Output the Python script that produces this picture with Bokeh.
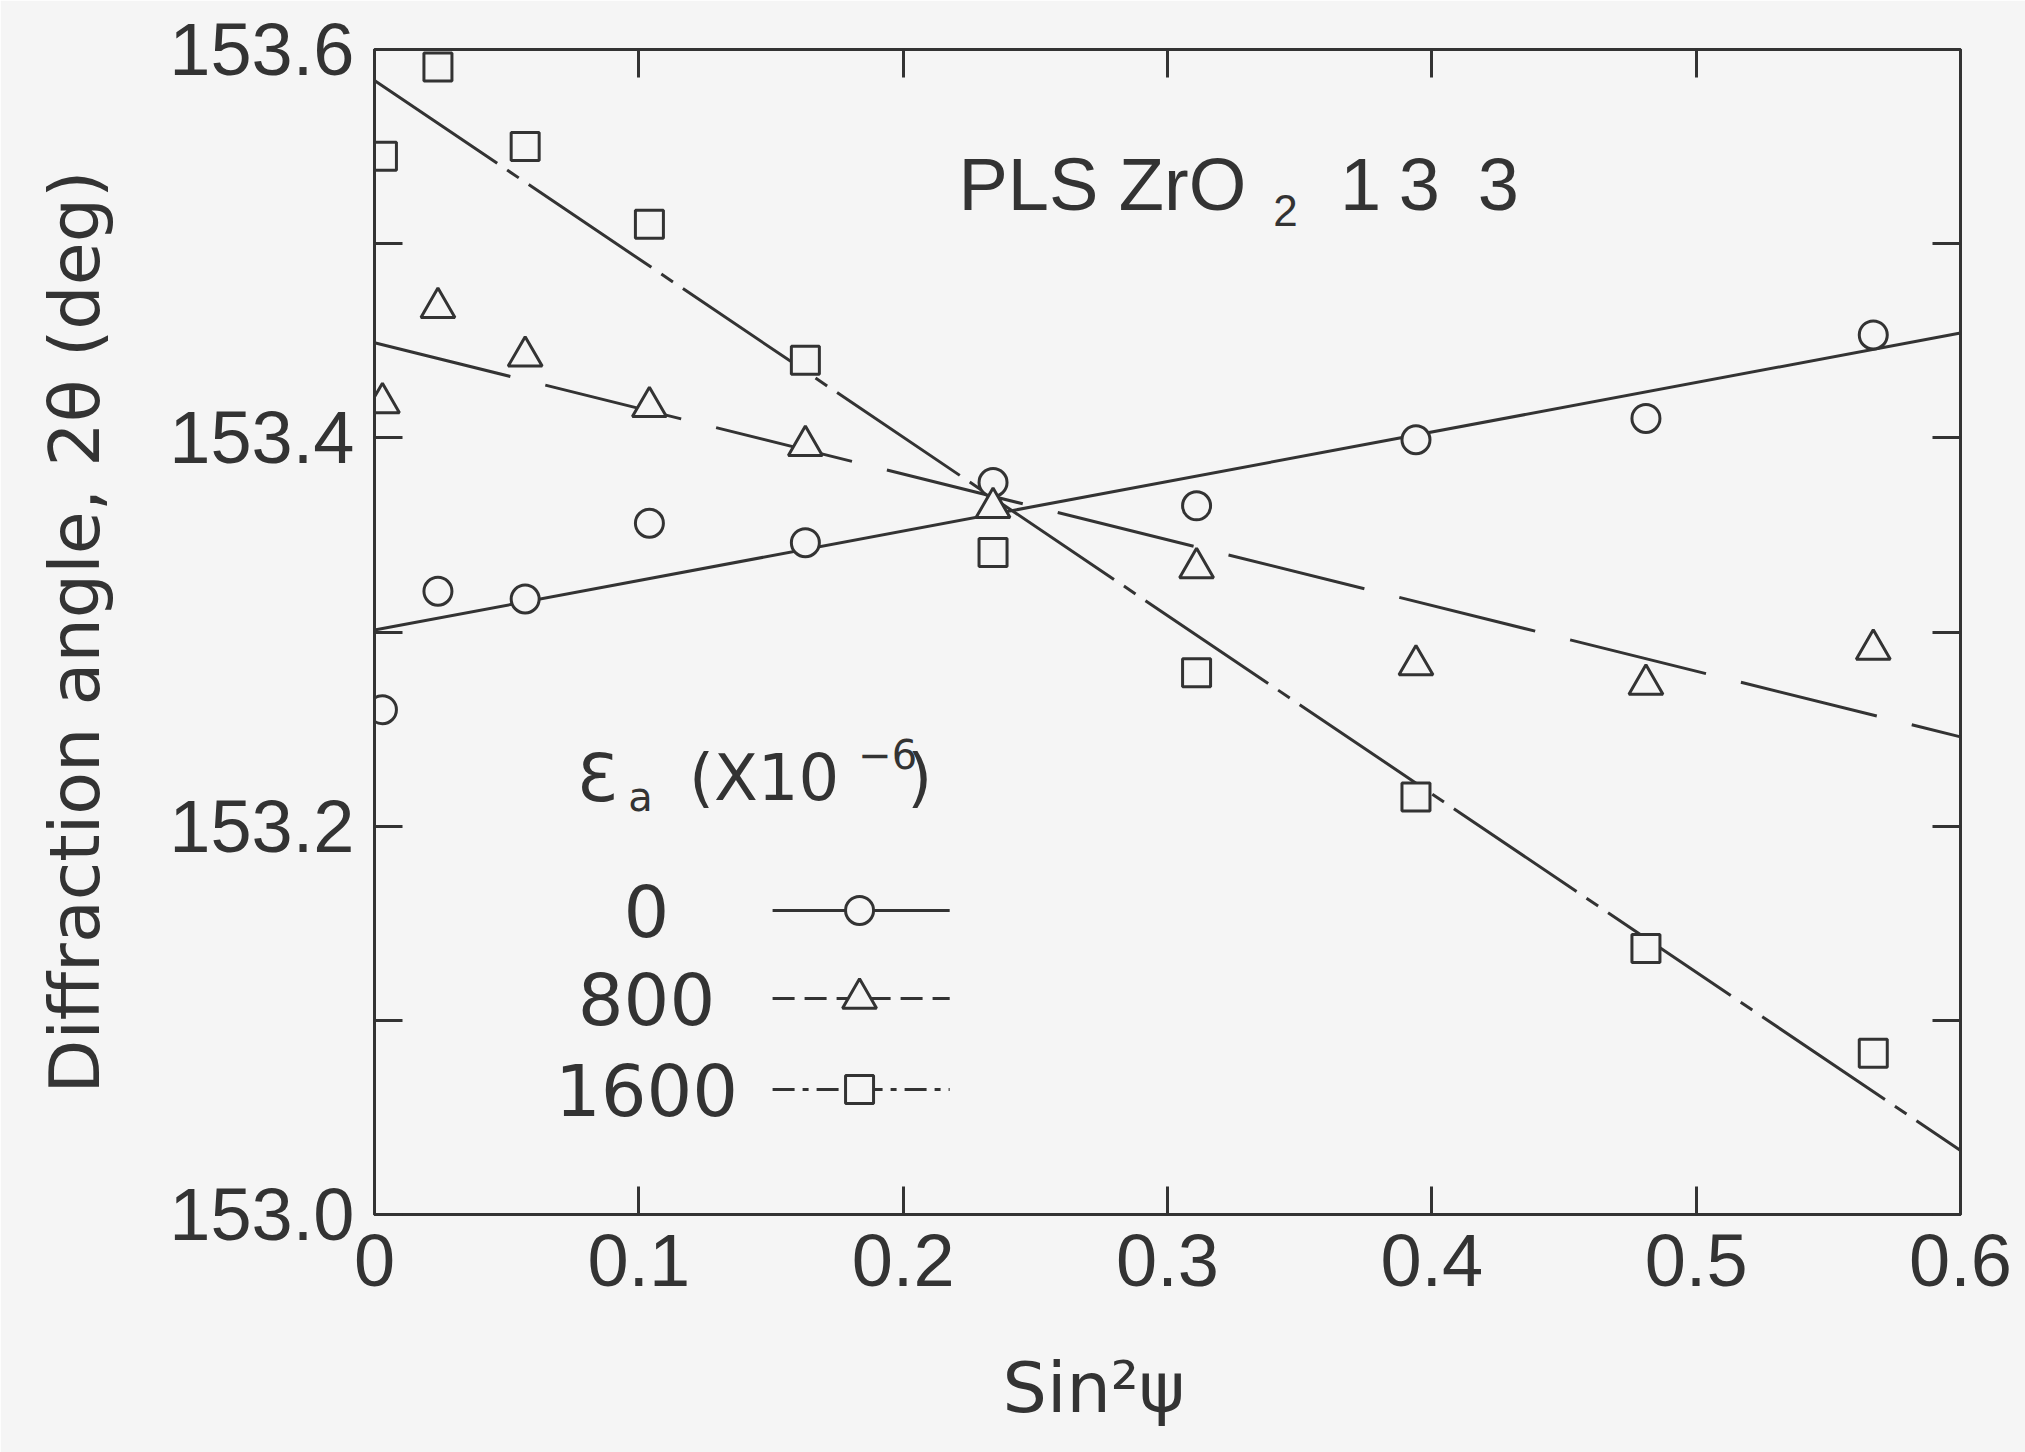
from bokeh.plotting import figure
from bokeh.models import Range1d, FixedTicker, LinearAxis, CustomJSTickFormatter
from bokeh.core.properties import value
from bokeh.embed import file_html
from bokeh.resources import INLINE

# ---- data ----
sin2psi = [0.003, 0.024, 0.057, 0.104, 0.163, 0.234, 0.311, 0.394, 0.481, 0.567]
angle_0 = [153.260, 153.321, 153.317, 153.356, 153.346, 153.377, 153.365, 153.399, 153.410, 153.453]
angle_800 = [153.418, 153.467, 153.442, 153.416, 153.396, 153.364, 153.333, 153.283, 153.273, 153.291]
angle_1600 = [153.545, 153.591, 153.550, 153.510, 153.440, 153.341, 153.279, 153.215, 153.137, 153.083]

fit_x = [0.0, 0.6]
fit_0 = [153.301, 153.454]
fit_800 = [153.449, 153.246]
fit_1600 = [153.584, 153.033]

x_ticks = [0.0, 0.1, 0.2, 0.3, 0.4, 0.5, 0.6]
y_ticks = [153.0, 153.2, 153.4, 153.6]
y_minor = [153.1, 153.3, 153.5]

legend_labels = ["0", "800", "1600"]

BG = "#f5f5f5"
INK = "#333333"
FONT = "Liberation Sans"
FONT2 = "DejaVu Sans"

p = figure(width=2025, height=1452, x_range=Range1d(0, 0.6), y_range=Range1d(153.0, 153.6),
           output_backend="svg", toolbar_location=None,
           min_border_left=374, min_border_right=65, min_border_top=49, min_border_bottom=238)
p.background_fill_color = BG
p.border_fill_color = BG
p.grid.visible = False
p.outline_line_color = INK
p.outline_line_width = 3

xt = FixedTicker(ticks=x_ticks)
yt = FixedTicker(ticks=y_ticks, minor_ticks=y_minor)
p.xaxis.ticker = xt
p.yaxis.ticker = yt
p.xaxis.major_label_overrides = {0: "0", 0.1: "0.1", 0.2: "0.2", 0.3: "0.3", 0.4: "0.4", 0.5: "0.5", 0.6: "0.6"}
p.yaxis.major_label_overrides = {153.0: "153.0", 153.2: "153.2", 153.4: "153.4", 153.6: "153.6"}

for ax in [p.xaxis[0], p.yaxis[0]]:
    ax.major_tick_in = 28
    ax.major_tick_out = 0
    ax.minor_tick_in = 28
    ax.minor_tick_out = 0
    ax.major_tick_line_width = 3
    ax.minor_tick_line_width = 3
    ax.major_tick_line_color = INK
    ax.minor_tick_line_color = INK
    ax.axis_line_width = 3
    ax.axis_line_color = INK
    ax.major_label_text_font = FONT
    ax.major_label_text_font_size = "74px"
    ax.major_label_text_color = INK
    ax.major_label_standoff = 20
    ax.axis_label_text_font = FONT2
    ax.axis_label_text_font_size = "70px"
    ax.axis_label_text_font_style = "normal"
    ax.axis_label_text_color = INK

p.xaxis.minor_tick_line_color = None
p.yaxis.axis_label = "Diffraction angle, 2θ (deg)"
p.yaxis.axis_label_standoff = 50
# x label: trailing no-break spaces shift the visible text left of the frame centre, as in the reference
p.xaxis.axis_label = "Sin\u00b2\u03c8" + "\u00a0" * 6 + "\u2009"
p.xaxis.axis_label_standoff = 58

blank = CustomJSTickFormatter(code="return ''")
for loc, tk in [("right", yt), ("above", xt)]:
    a = LinearAxis(ticker=tk, formatter=blank)
    a.major_tick_in = 28
    a.major_tick_out = 0
    a.minor_tick_in = 28
    a.minor_tick_out = 0
    a.major_tick_line_width = 3
    a.minor_tick_line_width = 3
    a.major_tick_line_color = INK
    a.minor_tick_line_color = INK if loc == "right" else None
    a.axis_line_color = None
    a.major_label_text_font_size = "1px"
    a.major_label_standoff = 0
    p.add_layout(a, loc)

# fit lines
p.line(fit_x, fit_0, line_color=INK, line_width=3)
p.line(fit_x, fit_800, line_color=INK, line_width=3, line_dash="140 36")
p.line(fit_x, fit_1600, line_color=INK, line_width=3, line_dash="148 12 14 12")

# data points
mk = dict(fill_color=BG, line_color=INK, line_width=3)
p.scatter(sin2psi, angle_0, marker="circle", size=28, **mk)
p.scatter(sin2psi, angle_800, marker="triangle", size=34, **mk)
p.scatter(sin2psi, angle_1600, marker="square", size=28, **mk)

# annotation text: PLS ZrO2 1 3 3
p.text(x=[0.2209], y=[153.5305], text=["PLS ZrO"], text_font=value(FONT),
       text_font_size=value("74px"), text_color=INK, text_baseline="middle", text_align="left")
p.text(x=[0.3400], y=[153.5170], text=["2"], text_font=value(FONT),
       text_font_size=value("44px"), text_color=INK, text_baseline="middle", text_align="left")
p.text(x=[0.3730, 0.3953, 0.4252], y=[153.5305] * 3, text=["1", "3", "3"], text_font=value(FONT),
       text_font_size=value("74px"), text_color=INK, text_baseline="middle", text_align="center")

# legend header: epsilon_a (X10^-6)
p.text(x=[0.0765], y=[153.2248], text=["\u0190"], text_font=value(FONT2),
       text_font_size=value("66px"), text_color=INK, text_baseline="middle", text_align="left")
p.text(x=[0.0960], y=[153.2150], text=["a"], text_font=value(FONT2),
       text_font_size=value("40px"), text_color=INK, text_baseline="middle", text_align="left")
p.text(x=[0.1190], y=[153.2248], text=["(X10"], text_font=value(FONT2),
       text_font_size=value("64px"), text_color=INK, text_baseline="middle", text_align="left")
p.text(x=[0.1830], y=[153.2370], text=["\u22126"], text_font=value(FONT2),
       text_font_size=value("40px"), text_color=INK, text_baseline="middle", text_align="left")
p.text(x=[0.2015], y=[153.2248], text=[")"], text_font=value(FONT2),
       text_font_size=value("64px"), text_color=INK, text_baseline="middle", text_align="left")

# legend entries (labels on the left of the samples)
leg_y = [153.1566, 153.1113, 153.0644]
p.text(x=[0.1029] * 3, y=leg_y, text=legend_labels, text_font=value(FONT2),
       text_font_size=value("72px"), text_color=INK, text_baseline="middle", text_align="center")
lx = [0.1506, 0.2176]
p.line(lx, [leg_y[0]] * 2, line_color=INK, line_width=3)
p.line(lx, [leg_y[1]] * 2, line_color=INK, line_width=3, line_dash="22 10")
p.line(lx, [leg_y[2]] * 2, line_color=INK, line_width=3, line_dash="22 8 6 8")
p.scatter([0.1835], [leg_y[0]], marker="circle", size=28, **mk)
p.scatter([0.1835], [leg_y[1]], marker="triangle", size=34, **mk)
p.scatter([0.1835], [leg_y[2]], marker="square", size=28, **mk)

open("out.html", "w").write(file_html(p, INLINE))
